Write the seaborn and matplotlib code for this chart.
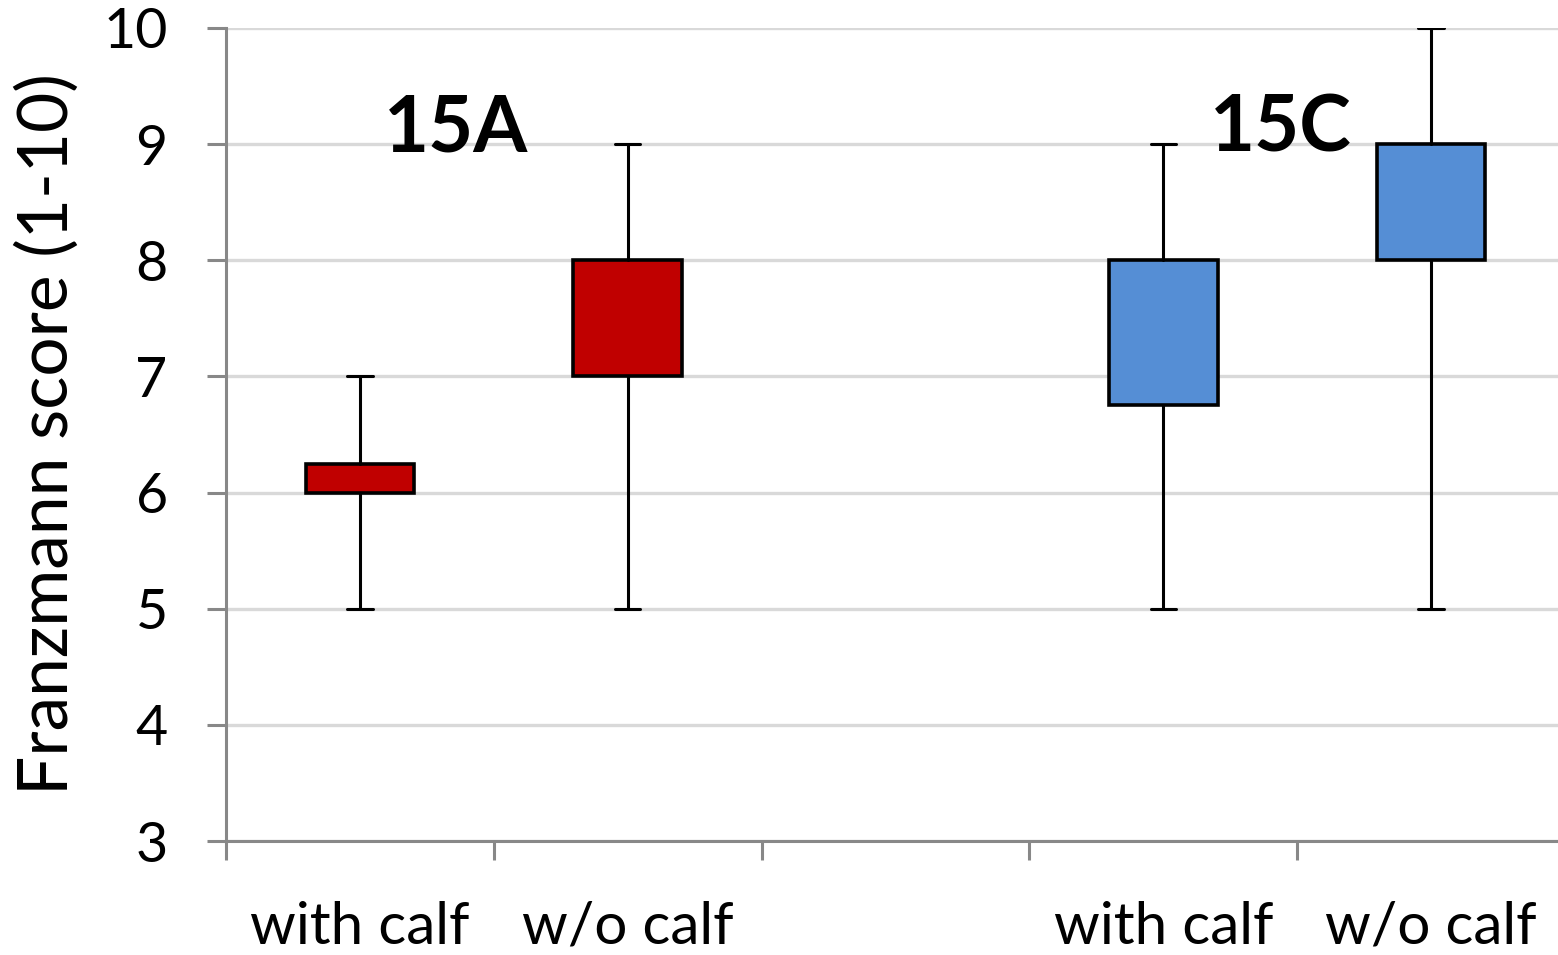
import matplotlib
matplotlib.use("Agg")
import matplotlib.pyplot as plt
import seaborn as sns
from matplotlib.ticker import FixedLocator

# box plot values (Excel style: whiskers min/max, box q1..q3)
groups = ["15A", "15A", "15C", "15C"]
labels = ["with calf", "w/o calf", "with calf", "w/o calf"]
positions = [0.5, 1.5, 3.5, 4.5]
mins = [5, 5, 5, 5]
q1 = [6, 7, 6.75, 8]
q3 = [6.25, 8, 8, 9]
maxs = [7, 9, 9, 10]
colors = ["#C00000", "#C00000", "#558ED5", "#558ED5"]

group_names = ["15A", "15C"]
group_label_x = [0.86, 3.94]

sns.set_theme(style="whitegrid")
plt.rcParams["font.family"] = ["Lato", "DejaVu Sans"]
plt.rcParams["text.color"] = "black"
plt.rcParams["axes.labelcolor"] = "black"
plt.rcParams["xtick.labelcolor"] = "black"
plt.rcParams["ytick.labelcolor"] = "black"

fig = plt.figure(figsize=(15.58, 9.55), dpi=100)
ax = fig.add_axes([226 / 1558, 1 - 841 / 955, (1565 - 226) / 1558, (841 - 28) / 955])

stats = []
for i in range(len(labels)):
    stats.append({"whislo": mins[i], "q1": q1[i], "med": q1[i],
                  "q3": q3[i], "whishi": maxs[i], "fliers": []})

bp = ax.bxp(stats, positions=positions, widths=0.405, capwidths=0.095,
            patch_artist=True, showfliers=False, zorder=3,
            boxprops={"linewidth": 2.6, "edgecolor": "black"},
            whiskerprops={"linewidth": 2.2, "color": "black"},
            capprops={"linewidth": 2.2, "color": "black"},
            medianprops={"visible": False})
for patch, c in zip(bp["boxes"], colors):
    patch.set_facecolor(c)

ax.set_xlim(0, 5)
ax.set_ylim(3, 10)
ax.set_yticks(range(3, 11))
ax.set_xticks(range(0, 6))
ax.set_xticklabels([])
ax.xaxis.set_minor_locator(FixedLocator(positions))
ax.set_xticklabels(labels, minor=True)

ax.grid(axis="y", color="#D9D9D9", linewidth=2.4)
ax.grid(axis="x", visible=False)
ax.set_axisbelow(True)

for s in ["top", "right"]:
    ax.spines[s].set_visible(False)
for s in ["left", "bottom"]:
    ax.spines[s].set_color("#888888")
    ax.spines[s].set_linewidth(2.2)

ax.tick_params(axis="y", which="major", length=14, width=2.2, color="#888888",
               direction="out", left=True, labelsize=40, pad=28)
ax.tick_params(axis="x", which="major", length=14, width=2.2, color="#888888",
               direction="out", bottom=True)
ax.tick_params(axis="x", which="minor", length=0, labelsize=42, pad=43)

ax.set_ylabel("Franzmann score (1-10)", fontsize=50, labelpad=17)

for name, gx in zip(group_names, group_label_x):
    ax.text(gx, 9.13, name, fontsize=56, fontweight="bold",
            ha="center", va="center", zorder=4)

fig.savefig("out.png", dpi=100)
